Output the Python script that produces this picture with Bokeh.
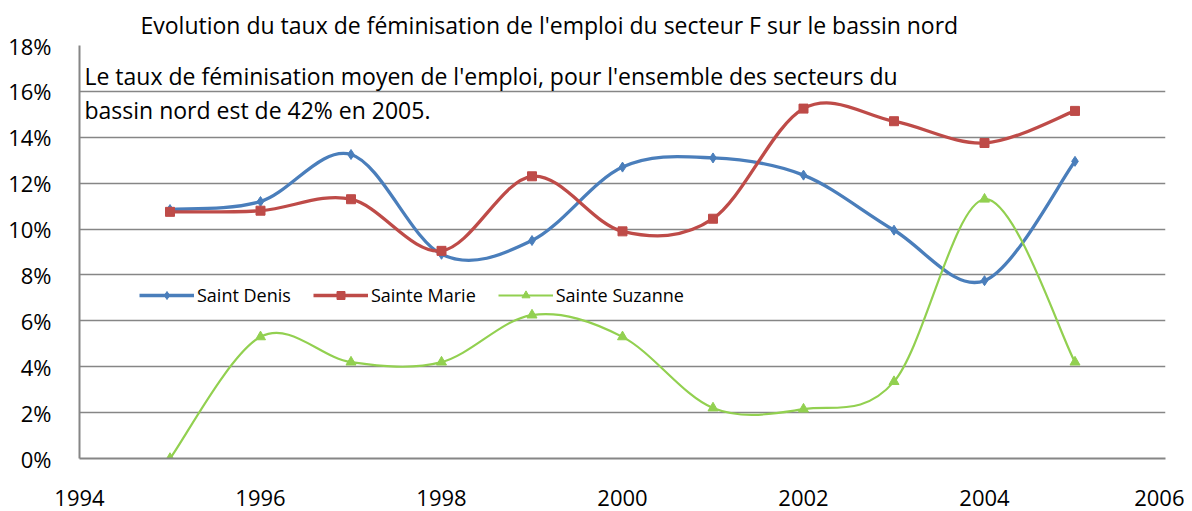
from bokeh.plotting import figure
from bokeh.models import (NumeralTickFormatter, FixedTicker, Legend, LegendItem,
                          Label, Range1d, ColumnDataSource, Title)
from bokeh.embed import file_html
from bokeh.resources import INLINE

years = [1995, 1996, 1997, 1998, 1999, 2000, 2001, 2002, 2003, 2004, 2005]
saint_denis = [0.1085, 0.112, 0.1325, 0.089, 0.095, 0.127, 0.131, 0.1235, 0.0995, 0.0775, 0.1295]
sainte_marie = [0.1075, 0.108, 0.113, 0.0905, 0.123, 0.099, 0.1045, 0.1525, 0.147, 0.1375, 0.1515]
sainte_suzanne = [0.0, 0.053, 0.042, 0.042, 0.0625, 0.053, 0.022, 0.0215, 0.0335, 0.113, 0.042]
series_names = ["Saint Denis", "Sainte Marie", "Sainte Suzanne"]
x_ticks = [1994, 1996, 1998, 2000, 2002, 2004, 2006]
y_ticks = [0, 0.02, 0.04, 0.06, 0.08, 0.10, 0.12, 0.14, 0.16, 0.18]
title_text = "Evolution du taux de féminisation de l'emploi du secteur F sur le bassin nord"
note_lines = ["Le taux de féminisation moyen de l'emploi, pour l'ensemble des secteurs du",
              "bassin nord est de 42% en 2005."]

FONT = "Open Sans"
GRID = "#868686"

p = figure(output_backend="svg", toolbar_location=None,
           x_range=Range1d(1994, 2006), y_range=Range1d(0, 0.18),
           frame_width=1086, frame_height=413,
           min_border_left=79, min_border_right=19, min_border_top=45, min_border_bottom=52)
p.outline_line_color = None
p.background_fill_color = "white"

t = Title(text=title_text, align="left", offset=61, text_font=FONT,
          text_font_size="23px", text_font_style="normal", text_color="black",
          standoff=9)
p.add_layout(t, "above")

for ax in (p.xaxis[0], p.yaxis[0]):
    ax.axis_line_color = GRID
    ax.axis_line_width = 2
    ax.major_tick_line_color = None
    ax.minor_tick_line_color = None
    ax.major_label_text_font = FONT
    ax.major_label_text_font_size = "22px"
    ax.major_label_text_color = "black"
p.xaxis.ticker = FixedTicker(ticks=x_ticks)
p.yaxis.ticker = FixedTicker(ticks=y_ticks)
p.yaxis.formatter = NumeralTickFormatter(format="0%")
p.xaxis.major_label_standoff = 25
p.yaxis.major_label_standoff = 22

p.xgrid.grid_line_color = None
p.ygrid.grid_line_color = GRID
p.ygrid.grid_line_width = 1.5


def bezier_source(xs, ys):
    n = len(xs)
    d = dict(x0=[], y0=[], x1=[], y1=[], cx0=[], cy0=[], cx1=[], cy1=[])
    for i in range(n - 1):
        xp, yp = (xs[i - 1], ys[i - 1]) if i > 0 else (xs[i], ys[i])
        xn, yn = (xs[i + 2], ys[i + 2]) if i + 2 < n else (xs[i + 1], ys[i + 1])
        d["x0"].append(xs[i]); d["y0"].append(ys[i])
        d["x1"].append(xs[i + 1]); d["y1"].append(ys[i + 1])
        d["cx0"].append(xs[i] + (xs[i + 1] - xp) / 6)
        d["cy0"].append(ys[i] + (ys[i + 1] - yp) / 6)
        d["cx1"].append(xs[i + 1] - (xn - xs[i]) / 6)
        d["cy1"].append(ys[i + 1] - (yn - ys[i]) / 6)
    return ColumnDataSource(d)


styles = [
    dict(color="#4A7EBB", width=3.3, marker="diamond", size=10),
    dict(color="#BE4B48", width=3.3, marker="square", size=9),
    dict(color="#92D050", width=2.2, marker="triangle", size=10),
]
data = [saint_denis, sainte_marie, sainte_suzanne]
items = []
for name, ys, st in zip(series_names, data, styles):
    src = bezier_source(years, ys)
    bz = p.bezier(x0="x0", y0="y0", x1="x1", y1="y1", cx0="cx0", cy0="cy0",
                  cx1="cx1", cy1="cy1", source=src, line_color=st["color"], line_width=st["width"])
    sc = p.scatter(years, ys, marker=st["marker"], size=st["size"],
                   fill_color=st["color"], line_color=st["color"])
    items.append(LegendItem(label=name, renderers=[bz, sc]))

legend = Legend(items=items, orientation="horizontal", location=(60, 151),
                glyph_width=55, glyph_height=20, label_height=20, label_standoff=3,
                spacing=22, padding=0, margin=0, border_line_color=None,
                background_fill_alpha=0, label_text_font=FONT,
                label_text_font_size="18px", label_text_color="black")
p.add_layout(legend, "center")

for txt, yv in zip(note_lines, [0.1665, 0.1521]):
    p.add_layout(Label(x=1994.055, y=yv, text=txt, text_font=FONT, text_font_size="23px",
                       text_baseline="middle", text_align="left", text_color="black"))

open("out.html", "w").write(file_html(p, INLINE))
